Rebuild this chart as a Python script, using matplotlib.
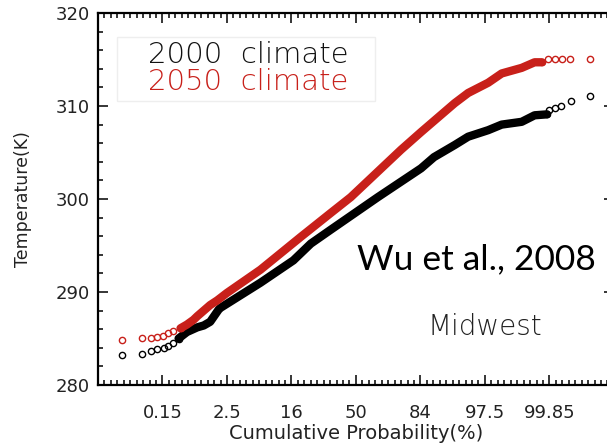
import matplotlib.pyplot as plt
from matplotlib.patches import Rectangle
from matplotlib.ticker import MultipleLocator

# x positions are standard normal quantiles (probit scale), y is temperature in K
TICK_Z = [-3, -2, -1, 0, 1, 2, 3]
TICK_LABELS = ["0.15", "2.5", "16", "50", "84", "97.5", "99.85"]

# 2000 climate: sparse tail points and the dense body of the distribution
z2000_low = [-3.62, -3.32, -3.18, -3.08, -2.98, -2.91, -2.83, -2.75]
t2000_low = [283.2, 283.3, 283.7, 283.9, 284.0, 284.2, 284.5, 285.0]
z2000_body = [-2.75, -2.62, -2.46, -2.36, -2.26, -2.13, -2.10, -1.48, -0.97, -0.70,
              -0.39, 0.34, 1.01, 1.21, 1.53, 1.74, 2.05, 2.26, 2.57, 2.77, 2.96]
t2000_body = [285.0, 285.7, 286.2, 286.4, 286.8, 288.1, 288.3, 291.0, 293.4, 295.2,
              296.7, 300.2, 303.3, 304.5, 305.8, 306.7, 307.4, 308.0, 308.3, 309.0, 309.1]
z2000_high = [2.96, 3.00, 3.08, 3.18, 3.33, 3.63]
t2000_high = [309.1, 309.6, 309.8, 310.0, 310.5, 311.1]

# 2050 climate
z2050_low = [-3.62, -3.32, -3.18, -3.08, -2.99, -2.91, -2.83, -2.72]
t2050_low = [284.8, 285.1, 285.1, 285.2, 285.3, 285.6, 285.8, 286.1]
z2050_body = [-2.72, -2.62, -2.52, -2.46, -2.26, -2.15, -2.00, -1.48, -0.86, -0.39,
              -0.08, 0.70, 1.01, 1.53, 1.74, 2.05, 2.26, 2.57, 2.77, 2.88]
t2050_body = [286.1, 286.5, 287.0, 287.4, 288.6, 289.1, 289.9, 292.4, 295.9, 298.5,
              300.2, 305.3, 307.2, 310.3, 311.4, 312.5, 313.5, 314.1, 314.7, 314.7]
z2050_high = [2.88, 2.98, 3.08, 3.19, 3.32, 3.63]
t2050_high = [314.7, 315.0, 315.0, 315.0, 315.1, 315.1]

RED = "#c8201a"
INK = "#222222"

fig = plt.figure(figsize=(6.07, 4.48), dpi=100)
ax = fig.add_axes([0.1614, 0.1406, 0.850, 0.8304])

for zl, tl, zb, tb, zh, th, col in [
    (z2000_low, t2000_low, z2000_body, t2000_body, z2000_high, t2000_high, "black"),
    (z2050_low, t2050_low, z2050_body, t2050_body, z2050_high, t2050_high, RED),
]:
    ax.plot(zb, tb, color=col, lw=6, solid_capstyle="round", solid_joinstyle="round")
    ax.plot(zl + zh, tl + th, "o", color=col, mfc="none", ms=4.5, mew=1.0, ls="none")

ax.set_xlim(-4, 4)
ax.set_ylim(280, 320)
ax.set_xticks(TICK_Z)
ax.set_xticklabels(TICK_LABELS)
ax.xaxis.set_minor_locator(MultipleLocator(0.1))
ax.yaxis.set_major_locator(MultipleLocator(10))
ax.yaxis.set_minor_locator(MultipleLocator(2))
ax.tick_params(which="both", direction="in", top=True, right=True, width=1.1,
               labelsize=13, color="black", labelcolor=INK)
ax.tick_params(which="major", length=7)
ax.tick_params(which="minor", length=3.5)
ax.tick_params(axis="x", pad=14)
ax.tick_params(axis="y", pad=6)
for s in ax.spines.values():
    s.set_linewidth(1.6)

ax.set_xlabel("Cumulative Probability(%)", fontsize=14, labelpad=1, color=INK)
ax.set_ylabel("Temperature(K)", fontsize=12.5, labelpad=17, color=INK)

# legend as plain coloured text inside a faint box
ax.add_patch(Rectangle((0.037, 0.764), 0.50, 0.172, transform=ax.transAxes,
                       fill=False, ec="#eeeeee", lw=1))
ax.text(0.097, 0.887, "2000  climate", transform=ax.transAxes, fontsize=21,
        color="#111111", va="center", fontweight="light")
ax.text(0.097, 0.815, "2050  climate", transform=ax.transAxes, fontsize=21,
        color=RED, va="center", fontweight="light")

ax.text(0.639, 0.156, "Midwest", transform=ax.transAxes, fontsize=20,
        color=INK, va="center", fontweight="light")
ax.text(0.502, 0.337, "Wu et al., 2008", transform=ax.transAxes, fontsize=25.5,
        family="Lato", color="black", va="center")

fig.savefig("out.png", dpi=100)
